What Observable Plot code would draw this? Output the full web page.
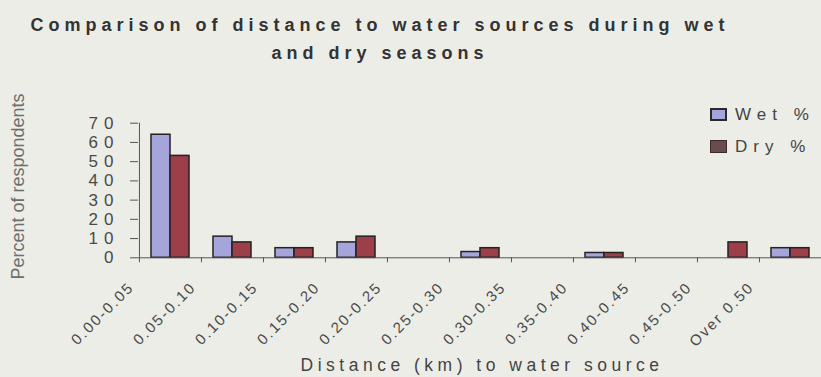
<!DOCTYPE html>
<html>
<head>
<meta charset="utf-8">
<script src="https://cdn.jsdelivr.net/npm/d3@7"></script>
<script src="https://cdn.jsdelivr.net/npm/@observablehq/plot@0.6"></script>
<style>
  body { margin: 0; background: #edede7; font-family: "Liberation Sans", Arial, sans-serif; }
  #wrap { position: relative; width: 821px; height: 377px; overflow: hidden; }
  #title { width: 760px; height: 65px; box-sizing: border-box; padding-top: 11px; text-align: center;
           font-weight: bold; font-size: 18px; line-height: 28px; letter-spacing: 5px; color: #333; overflow: visible; }
  #chart svg { display: block; overflow: visible; }
  .legend { position: absolute; left: 710px; font-size: 17px; letter-spacing: 6px; color: #444; line-height: 13px; }
  .legend span.sw { position: absolute; left: 0; top: 0; width: 17px; height: 13px; box-sizing: border-box; }
  .legend span.lb { position: absolute; left: 25px; top: 0; white-space: nowrap; }
  g[aria-label="y-axis tick label"] text { letter-spacing: 6px; }
  g[aria-description="category labels"] text { letter-spacing: 2px; }
  g[aria-description="x title"] text { letter-spacing: 4.5px; }
</style>
</head>
<body>
<div id="wrap">
  <div id="title">Comparison of distance to water sources during wet<br>and dry seasons</div>
  <div id="chart"></div>
  <div class="legend" style="top:108px"><span class="sw" style="background:#a5a5dc;border:2px solid #2a2a2a"></span><span class="lb">Wet %</span></div>
  <div class="legend" style="top:140px"><span class="sw" style="background:#6b4c4c;border:1px solid #3a2a2a"></span><span class="lb">Dry %</span></div>
</div>
<script>
// Distance bands (km) to the water source
const categories = ["0.00-0.05", "0.05-0.10", "0.10-0.15", "0.15-0.20", "0.20-0.25", "0.25-0.30",
                    "0.30-0.35", "0.35-0.40", "0.40-0.45", "0.45-0.50", "Over 0.50"];
// Percent of respondents in each band
const wet = [64, 11, 5, 8, 0, 3, 0, 2.5, 0, 0, 5];
const dry = [53, 8, 5, 11, 0, 5, 0, 2.5, 0, 8, 5];
const yTicks = [0, 10, 20, 30, 40, 50, 60, 70];

const rows = categories.flatMap((cat, i) => [
  {cat, series: "Wet %", value: wet[i]},
  {cat, series: "Dry %", value: dry[i]}
]);

const width = 821, height = 312;
const marginLeft = 138, marginRight = 0, marginTop = 57.7, marginBottom = 119.7;
const step = (width - marginLeft - marginRight) / categories.length;

const chart = Plot.plot({
  width, height, marginLeft, marginRight, marginTop, marginBottom,
  style: {background: "transparent", fontFamily: "Liberation Sans, Arial, sans-serif", overflow: "visible"},
  x: {domain: categories, padding: 0},
  y: {domain: [0, 70]},
  marks: [
    Plot.barY(rows.filter(d => d.series === "Wet %" && d.value > 0), {
      x: "cat", y: "value", fill: "#a5a5dc", stroke: "#222", strokeWidth: 1.5, insetLeft: 12, insetRight: 31
    }),
    Plot.barY(rows.filter(d => d.series === "Dry %" && d.value > 0), {
      x: "cat", y: "value", fill: "#9c3f49", stroke: "#222", strokeWidth: 1.5, insetLeft: 31, insetRight: 12
    }),
    Plot.ruleY([0], {stroke: "#555"}),
    Plot.ruleX([categories[0]], {y1: 0, y2: 70, dx: -step / 2, stroke: "#555"}),
    Plot.axisY({ticks: yTicks, tickSize: 8, tickPadding: 11, fontSize: 17, color: "#4a4a4a", stroke: "#555", label: null}),
    Plot.axisX({tickSize: 5, tickFormat: () => "", dx: -step / 2, stroke: "#555", label: null}),
    Plot.text(categories, {
      x: d => d, frameAnchor: "bottom", rotate: -45, textAnchor: "end", lineAnchor: "middle",
      dx: -39, dy: 27, fontSize: 15, fill: "#4a4a4a", ariaDescription: "category labels"
    }),
    Plot.text(["Distance (km) to water source"], {
      frameAnchor: "bottom", textAnchor: "middle", lineAnchor: "middle", dx: 2, dy: 108, fontSize: 17.5, fill: "#444",
      ariaDescription: "x title"
    }),
    Plot.text(["Percent of respondents"], {
      frameAnchor: "left", textAnchor: "middle", lineAnchor: "middle", rotate: -90, dx: -120, dy: -4, fontSize: 18, fill: "#6e6e6e"
    })
  ]
});
document.getElementById("chart").appendChild(chart);
</script>
</body>
</html>
